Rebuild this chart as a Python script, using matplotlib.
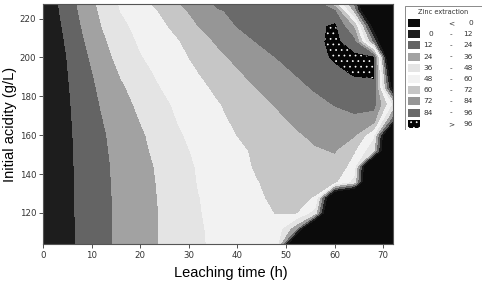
import numpy as np
import matplotlib
matplotlib.use('Agg')
import matplotlib.pyplot as plt
from matplotlib.patches import Rectangle

# leaching time (h) and initial acidity (g/L) grid
time_h = [0, 4, 8, 12, 16, 20, 24, 28, 32, 36, 40, 44, 48, 52, 56, 60, 64, 68, 72]
acidity = [104, 112, 120, 128, 136, 144, 152, 160, 168, 176, 184, 192, 200, 208, 216, 224, 228]

# zinc extraction (%), one row per acidity value
extraction = [
    [2, 7.4, 14.4, 20.7, 26.4, 31.3, 36.3, 41.3, 46.7, 50.0, 52.5, 54.5, 55.5, -40, -60, -60, -60, -60, -60],
    [2, 7.4, 14.4, 20.6, 26.4, 31.3, 36.3, 41.6, 46.9, 50.3, 53.0, 55.0, 56.0, 28, -60, -60, -60, -60, -60],
    [2, 7.5, 14.5, 20.7, 26.4, 31.3, 36.3, 41.7, 47.2, 51.5, 55.0, 58.0, 60.2, 60.5, 42, -60, -60, -60, -60],
    [2, 7.6, 14.6, 20.9, 26.5, 31.5, 36.6, 42.1, 47.7, 51.5, 55.1, 58.8, 61.5, 64.0, 59, -40, -60, -60, -60],
    [2, 7.7, 14.8, 21.1, 26.8, 31.8, 37.0, 42.9, 48.5, 52.2, 55.9, 59.6, 62.5, 64.5, 66, 62, 44, -60, -60],
    [2, 7.7, 14.9, 21.3, 27.0, 32.2, 37.6, 43.6, 49.0, 52.9, 56.9, 61.0, 64.0, 66.5, 68.5, 69.5, 54, -60, -60],
    [2, 7.9, 15.2, 21.8, 27.7, 33.2, 39.1, 45.2, 50.2, 54.1, 58.0, 61.5, 65.0, 68.5, 71, 72.5, 61, 38, -60],
    [2, 8.0, 15.4, 22.3, 28.4, 34.2, 40.5, 46.9, 51.5, 55.8, 60.1, 63.6, 67.1, 70.6, 74, 75, 73, 50, -60],
    [2, 8.2, 16.0, 23.4, 29.9, 36.3, 42.7, 48.8, 53.2, 57.7, 61.9, 65.8, 69.7, 74.0, 77.5, 80, 82, 78, 15],
    [2, 8.4, 16.7, 24.7, 31.7, 38.4, 44.8, 50.3, 54.8, 59.3, 63.8, 68.4, 72.8, 76.7, 80.6, 84.5, 87, 88, 45],
    [2, 8.7, 17.6, 26.2, 34.0, 40.9, 47.5, 52.4, 57.1, 62.0, 67.0, 72.0, 76.4, 80.7, 85, 89, 92, 94, -10],
    [2, 9.2, 18.7, 28.1, 36.9, 43.8, 50.0, 54.9, 59.9, 65.4, 70.9, 75.6, 80.1, 84.5, 89, 93, 97, 97, -30],
    [2, 9.6, 20.2, 30.8, 39.7, 47.1, 52.3, 57.2, 62.8, 69.2, 74.6, 79.4, 84.1, 88.0, 92, 97.5, 99, 97, -60],
    [2, 10.8, 22.2, 33.2, 42.1, 49.4, 54.4, 59.4, 66.6, 73.5, 79.0, 84.3, 87.0, 90.0, 93, 99, 88, 20, -60],
    [2, 12.3, 24.3, 35.7, 45.0, 51.6, 57.0, 63.7, 72.0, 78.2, 84.3, 87.0, 89.0, 91.0, 93, 98, 70, -10, -60],
    [2, 13.9, 26.4, 38.0, 48.2, 54.3, 60.6, 68.9, 76.3, 83.1, 86.0, 88.0, 90.0, 91.0, 92, 85, 30, -60, -60],
    [2, 14.6, 27.4, 39.2, 49.2, 55.8, 63.3, 72.0, 79.3, 86.0, 88.0, 89.0, 90.0, 91.0, 91, 62, 20, -60, -60],
]

levels = [-1000, 0, 12, 24, 36, 48, 60, 72, 84, 96, 1000]
band_low = ['', '0', '12', '24', '36', '48', '60', '72', '84', '']
band_high = ['0', '12', '24', '36', '48', '60', '72', '84', '96', '96']
colors = ['#0b0b0b', '#1d1d1d', '#646464', '#a2a2a2', '#e4e4e4',
          '#f2f2f2', '#c6c6c6', '#969696', '#6a6a6a', '#050505']
hatches = [None] * 9 + ['...']

plt.rcParams['hatch.color'] = 'white'
plt.rcParams['hatch.linewidth'] = 0.5

fig = plt.figure(figsize=(4.84, 2.81), dpi=100)
ax = fig.add_axes([0.0888, 0.1317, 0.7232, 0.8541])

X, Y = np.meshgrid(time_h, acidity)
Z = np.array(extraction)
ax.contourf(X, Y, Z, levels=levels, colors=colors, hatches=hatches)

ax.set_xlim(0, 72)
ax.set_ylim(104, 227.5)
ax.set_xticks(range(0, 71, 10))
ax.set_yticks(range(120, 221, 20))
ax.tick_params(labelsize=6.2, length=3, width=0.6, color='#333333', labelcolor='#333333', pad=2)
for s in ax.spines.values():
    s.set_linewidth(0.8)
    s.set_color('#555555')
ax.set_xlabel('Leaching time (h)', fontsize=10.5, family='Liberation Sans')
ax.xaxis.set_label_coords(0.536, -0.09)
ax.set_ylabel('Initial acidity (g/L)', fontsize=10.5, family='Liberation Sans', labelpad=2)

# legend box drawn by hand
lax = fig.add_axes([0.835, 0.537, 0.161, 0.445])
lax.set_xlim(0, 78)
lax.set_ylim(125, 0)
lax.axis('off')
lax.add_patch(Rectangle((0.5, 0.5), 77, 124, fill=False, lw=0.6, ec='#777777'))
lax.text(39, 7, 'Zinc extraction', fontsize=4.8, ha='center', va='center', color='#333333')
for i in range(10):
    yc = 18 + i * 11.2
    lax.add_patch(Rectangle((4, yc - 4), 12, 8, fc=colors[i], ec='white' if hatches[i] else 'none',
                            lw=0, hatch=hatches[i]))
    sym = '<' if i == 0 else ('>' if i == 9 else '-')
    lax.text(29, yc, band_low[i], fontsize=5.3, ha='right', va='center', color='#333333')
    lax.text(47, yc, sym, fontsize=5.3, ha='center', va='center', color='#333333')
    lax.text(69, yc, band_high[i], fontsize=5.3, ha='right', va='center', color='#333333')

fig.savefig('out.png', dpi=100)
